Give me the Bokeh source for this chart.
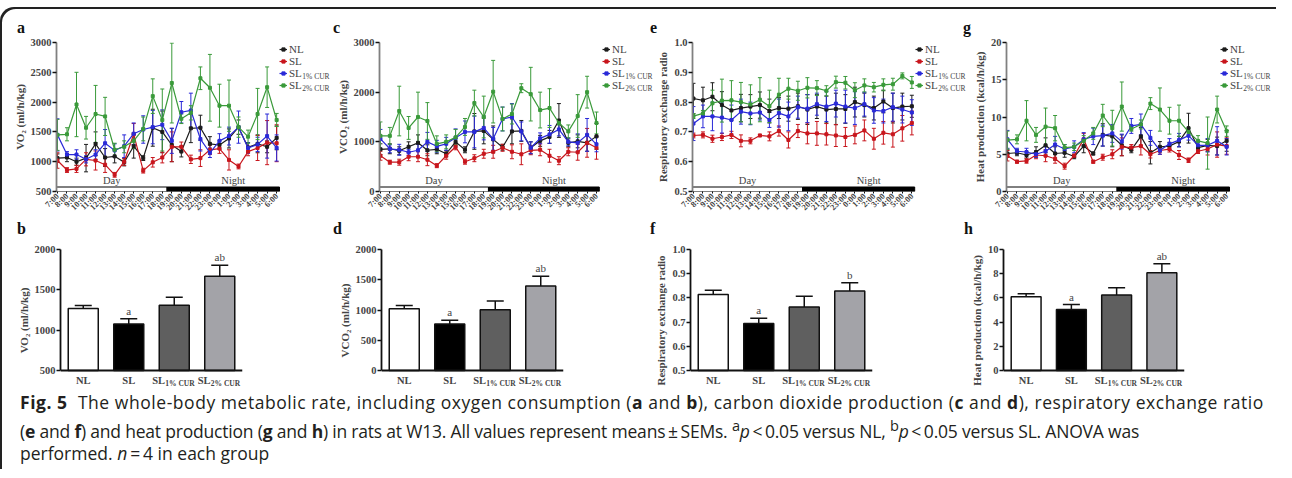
import math
from bokeh.plotting import figure
from bokeh.models import (Range1d, FixedTicker, Legend, LegendItem, Label, Whisker, Span,
                          ColumnDataSource, Div, TeeHead, PrintfTickFormatter)
from bokeh.layouts import row, column
from bokeh.embed import file_html
from bokeh.resources import INLINE
from bokeh.core.properties import value

# ---------------- data ----------------
hours = ["7:00", "8:00", "9:00", "10:00", "11:00", "12:00", "13:00", "14:00", "15:00", "16:00",
         "17:00", "18:00", "19:00", "20:00", "21:00", "22:00", "23:00", "0:00", "1:00", "2:00",
         "3:00", "4:00", "5:00", "6:00"]
periods = ["Day", "Night"]
night_first_hour = "19:00"

groups = ["NL", "SL", "SL1% CUR", "SL2% CUR"]
group_base = ["NL", "SL", "SL", "SL"]
group_sub = ["", "", "1% CUR", "2% CUR"]

# VO2 (ml/h/kg)
vo2_nl = [1060, 1070, 1000, 1060, 1300, 1070, 1090, 990, 1260, 1060, 1570, 1500,
          1280, 1170, 1560, 1570, 1300, 1280, 1390, 1580, 1240, 1300, 1250, 1400]
vo2_nl_sem = [70, 70, 60, 230, 200, 150, 110, 60, 200, 40, 310, 350,
              280, 90, 240, 210, 120, 70, 160, 120, 80, 150, 100, 200]
vo2_sl = [1020, 860, 880, 1040, 1020, 950, 780, 1000, 1460, 850, 990, 1070,
          1250, 1250, 1040, 1060, 1200, 1220, 1030, 920, 1170, 1230, 1320, 1310]
vo2_sl_sem = [130, 40, 60, 110, 160, 130, 40, 60, 180, 40, 80, 90,
              250, 80, 70, 140, 80, 80, 170, 40, 70, 210, 370, 310]
vo2_sl1 = [1450, 1120, 1120, 1040, 1120, 1310, 1190, 1260, 1470, 1540, 1580, 1620,
           1350, 1830, 1860, 1380, 1150, 1350, 1430, 1580, 1230, 1290, 1430, 1230]
vo2_sl1_sem = [270, 50, 80, 60, 80, 230, 110, 190, 180, 230, 280, 250,
               210, 180, 290, 200, 80, 120, 150, 270, 90, 120, 370, 220]
vo2_sl2 = [1450, 1460, 1960, 1570, 1800, 1760, 1200, 1250, 1350, 1550, 2100, 1700,
           2320, 1720, 1820, 2400, 2240, 1940, 1940, 1580, 1420, 1800, 2250, 1700]
vo2_sl2_sem = [260, 110, 540, 190, 480, 320, 110, 100, 130, 200, 290, 520,
               670, 80, 120, 190, 560, 360, 430, 170, 110, 430, 340, 110]

# VCO2 (ml/h/kg)
vco2_nl = [850, 860, 820, 900, 980, 830, 850, 760, 1000, 840, 1210, 1220,
           1050, 890, 1210, 1220, 880, 1020, 1100, 1430, 980, 1010, 980, 1110]
vco2_nl_sem = [110, 100, 80, 100, 160, 110, 90, 60, 60, 60, 360, 260,
               270, 60, 250, 210, 120, 110, 130, 340, 80, 130, 170, 260]
vco2_sl = [720, 590, 590, 700, 700, 640, 520, 720, 900, 600, 670, 760,
           800, 880, 800, 750, 830, 840, 720, 620, 800, 790, 980, 880]
vco2_sl_sem = [90, 40, 60, 80, 100, 120, 40, 70, 60, 50, 70, 90,
               130, 70, 140, 210, 90, 120, 130, 80, 80, 160, 290, 230]
vco2_sl1 = [1060, 860, 840, 790, 830, 1000, 910, 960, 1080, 1200, 1200, 1280,
            1060, 1460, 1500, 1210, 880, 1070, 1150, 1250, 1000, 980, 1140, 950]
vco2_sl1_sem = [190, 80, 110, 60, 120, 190, 120, 130, 180, 220, 320, 240,
                230, 240, 270, 190, 120, 110, 180, 130, 80, 180, 330, 150]
vco2_sl2 = [1120, 1120, 1620, 1280, 1500, 1420, 960, 1000, 1090, 1300, 1780, 1500,
            2010, 1460, 1560, 2080, 1960, 1640, 1680, 1380, 1210, 1520, 2000, 1380]
vco2_sl2_sem = [280, 170, 500, 230, 500, 370, 160, 140, 160, 170, 260, 420,
                630, 240, 200, 90, 540, 360, 390, 40, 130, 430, 320, 220]

# Respiratory exchange ratio
rer_nl = [0.812, 0.806, 0.818, 0.790, 0.772, 0.780, 0.785, 0.790, 0.770, 0.780, 0.778, 0.786,
          0.775, 0.785, 0.775, 0.777, 0.777, 0.800, 0.790, 0.780, 0.802, 0.780, 0.785, 0.786]
rer_nl_sem = [0.051, 0.044, 0.047, 0.045, 0.033, 0.046, 0.040, 0.044, 0.040, 0.035, 0.042, 0.044,
              0.050, 0.040, 0.045, 0.053, 0.048, 0.050, 0.040, 0.040, 0.038, 0.050, 0.045, 0.037]
rer_sl = [0.688, 0.690, 0.677, 0.683, 0.690, 0.670, 0.670, 0.688, 0.685, 0.703, 0.673, 0.703,
          0.695, 0.695, 0.692, 0.688, 0.683, 0.690, 0.705, 0.677, 0.697, 0.692, 0.712, 0.730]
rer_sl_sem = [0.008, 0.010, 0.012, 0.012, 0.012, 0.020, 0.010, 0.004, 0.015, 0.017, 0.027, 0.022,
              0.035, 0.040, 0.036, 0.037, 0.032, 0.030, 0.035, 0.035, 0.038, 0.043, 0.043, 0.040]
rer_sl1 = [0.728, 0.752, 0.752, 0.748, 0.740, 0.768, 0.762, 0.765, 0.740, 0.763, 0.752, 0.783,
           0.778, 0.793, 0.785, 0.795, 0.785, 0.780, 0.793, 0.772, 0.770, 0.783, 0.775, 0.765]
rer_sl1_sem = [0.057, 0.038, 0.048, 0.052, 0.050, 0.042, 0.038, 0.025, 0.025, 0.047, 0.048, 0.037,
               0.047, 0.037, 0.050, 0.045, 0.055, 0.055, 0.040, 0.043, 0.040, 0.047, 0.045, 0.043]
rer_sl2 = [0.753, 0.762, 0.796, 0.805, 0.806, 0.800, 0.792, 0.808, 0.786, 0.825, 0.845, 0.838,
           0.848, 0.847, 0.838, 0.867, 0.865, 0.840, 0.856, 0.850, 0.858, 0.860, 0.888, 0.866]
rer_sl2_sem = [0.008, 0.010, 0.044, 0.072, 0.066, 0.066, 0.066, 0.074, 0.054, 0.055, 0.035, 0.032,
               0.034, 0.025, 0.017, 0.020, 0.021, 0.025, 0.022, 0.016, 0.020, 0.020, 0.010, 0.020]

# Heat production (kcal/h/kg)
heat_nl = [5.1, 5.2, 4.9, 5.3, 6.2, 5.1, 5.2, 4.7, 6.1, 5.1, 7.6, 7.4,
           6.2, 5.6, 7.4, 5.2, 6.0, 6.1, 6.7, 8.5, 5.9, 6.2, 6.1, 6.8]
heat_nl_sem = [0.5, 0.4, 0.4, 0.7, 1.0, 0.9, 0.6, 0.3, 0.9, 0.2, 1.5, 1.4,
               1.4, 0.4, 1.2, 1.5, 0.7, 0.5, 0.7, 2.0, 0.3, 0.8, 1.2, 1.4]
heat_sl = [4.8, 4.0, 4.1, 4.9, 4.8, 4.4, 3.4, 4.8, 7.0, 4.0, 4.6, 5.0,
           6.0, 5.9, 6.1, 5.0, 5.5, 5.7, 4.9, 4.2, 5.4, 5.7, 6.3, 6.1]
heat_sl_sem = [0.7, 0.2, 0.3, 0.5, 0.8, 0.6, 0.4, 0.2, 0.8, 0.2, 0.4, 0.6,
               1.2, 0.4, 1.2, 0.5, 0.5, 0.4, 0.6, 0.3, 0.3, 0.8, 1.7, 1.1]
heat_sl1 = [7.0, 5.4, 5.3, 5.0, 5.4, 6.3, 5.7, 6.0, 7.0, 7.4, 7.5, 7.8,
            6.7, 8.8, 9.0, 7.2, 5.5, 6.4, 6.9, 7.5, 6.2, 6.2, 6.8, 6.0]
heat_sl1_sem = [1.2, 0.4, 0.5, 0.4, 0.6, 1.1, 0.6, 0.8, 0.9, 1.1, 1.4, 1.2,
                1.0, 1.0, 1.4, 1.0, 0.5, 0.7, 0.9, 0.6, 0.4, 0.9, 1.9, 1.1]
heat_sl2 = [6.9, 7.0, 9.5, 7.6, 8.7, 8.5, 5.9, 6.0, 6.8, 7.8, 10.2, 8.5,
            11.4, 8.4, 9.0, 11.8, 11.0, 9.5, 9.5, 8.0, 6.8, 6.5, 11.0, 8.1]
heat_sl2_sem = [1.2, 0.6, 2.7, 1.0, 2.5, 1.7, 0.4, 0.5, 0.7, 0.8, 1.5, 2.4,
                3.3, 0.3, 0.6, 0.8, 2.9, 1.8, 2.1, 0.5, 0.7, 3.5, 1.8, 0.7]

# Whole-period means (bar charts)
vo2_bar = [1270, 1076, 1308, 1668]
vo2_bar_sem = [35, 66, 100, 137]
vo2_sig = ["", "a", "", "ab"]
vco2_bar = [1020, 770, 1005, 1395]
vco2_bar_sem = [55, 62, 142, 163]
vco2_sig = ["", "a", "", "ab"]
rer_bar = [0.814, 0.694, 0.762, 0.828]
rer_bar_sem = [0.018, 0.022, 0.045, 0.035]
rer_sig = ["", "a", "", "b"]
heat_bar = [6.09, 5.04, 6.25, 8.07]
heat_bar_sem = [0.25, 0.41, 0.58, 0.75]
heat_sig = ["", "a", "", "ab"]

# ---------------- style ----------------
FONT = "Liberation Serif"
line_colors = ["#1c1c1c", "#c8161d", "#2a2ad8", "#3a9a3a"]
bar_colors = ["#ffffff", "#000000", "#5f5f5f", "#a3a3a8"]
TOP_H, BOT_H = 184, 149
TOP_FH, BOT_FH = 149, 121
DATA_W = 223
X0, X1 = -0.1, 23.3
LEG_PITCH = 12


def base_fig(width, height, left, right, top, bottom, xr, yr, **kw):
    p = figure(width=width, height=height, x_range=xr, y_range=yr,
               output_backend="svg", toolbar_location=None,
               min_border_left=left, min_border_right=right,
               min_border_top=top, min_border_bottom=bottom, **kw)
    p.grid.visible = False
    p.outline_line_color = None
    p.border_fill_color = None
    p.background_fill_color = None
    return p


def style_y(ax, label, ticks, fmt, line_color):
    ax.ticker = FixedTicker(ticks=ticks)
    ax.formatter = PrintfTickFormatter(format=fmt)
    ax.bounds = (ticks[0], ticks[-1])
    ax.axis_label = label
    ax.axis_label_text_font = FONT
    ax.axis_label_text_font_style = "bold"
    ax.axis_label_text_font_size = "11px"
    ax.axis_label_standoff = 2
    ax.major_label_text_font = FONT
    ax.major_label_text_font_style = "bold"
    ax.major_label_text_font_size = "10.5px"
    ax.major_label_standoff = 1
    ax.axis_line_color = line_color
    ax.axis_line_width = 1.8
    ax.major_tick_line_color = "#111111"
    ax.major_tick_line_width = 1.5
    ax.major_tick_out = 4
    ax.major_tick_in = 0
    ax.minor_tick_line_color = None


def line_panel(ylabel, means, sems, y0, y1, ticks, fmt, width, left, leg_dx):
    px_per = DATA_W / (X1 - X0)
    xr = Range1d(X0, X0 + (width - left) / px_per)
    p = base_fig(width, TOP_H, left, 0, 7, 28, xr, Range1d(y0, y1))
    x = list(range(len(hours)))
    style_y(p.yaxis[0], ylabel, ticks, fmt, "#808080")
    xa = p.xaxis[0]
    xa.ticker = FixedTicker(ticks=x)
    xa.bounds = (X0, X1)
    xa.major_label_overrides = {i: h for i, h in enumerate(hours)}
    xa.major_label_orientation = math.pi / 4
    xa.major_label_text_font = FONT
    xa.major_label_text_font_style = "bold"
    xa.major_label_text_font_size = "8.5px"
    xa.major_label_standoff = 1
    xa.axis_line_color = None
    xa.major_tick_out = 2
    xa.major_tick_in = 0
    xa.major_tick_line_color = "#111111"
    xa.minor_tick_line_color = None

    # day / night bar
    split = hours.index(night_first_hour) - 0.5
    barh = (y1 - y0) * 4.5 / TOP_FH
    p.quad(left=[X0, split], right=[split, X1], bottom=y0, top=y0 + barh,
           fill_color=["white", "black"], line_color="black", line_width=1)
    p.add_layout(Label(x=(X0 + split) / 2, y=y0 + barh, y_offset=1, text=periods[0],
                       text_font=FONT, text_font_size="10.5px", text_align="center",
                       text_baseline="bottom"))
    p.add_layout(Label(x=(split + X1) / 2, y=y0 + barh, x_offset=10, y_offset=1, text=periods[1],
                       text_font=FONT, text_font_size="10.5px", text_align="center",
                       text_baseline="bottom"))

    items = []
    for k in range(4):
        m, s, c = means[k], sems[k], line_colors[k]
        src = ColumnDataSource(dict(x=x, y=m, lo=[a - b for a, b in zip(m, s)],
                                    hi=[a + b for a, b in zip(m, s)]))
        p.add_layout(Whisker(source=src, base="x", lower="lo", upper="hi", dimension="height",
                             line_color=c, line_width=1,
                             upper_head=TeeHead(size=4, line_color=c, line_width=1),
                             lower_head=TeeHead(size=4, line_color=c, line_width=1)))
        lr = p.line("x", "y", source=src, line_color=c, line_width=1.2)
        sr = p.scatter("x", "y", source=src, marker="square", size=3,
                       fill_color=c, line_color=c)
        items.append(LegendItem(label=value(group_base[k]), renderers=[lr, sr]))

    leg = Legend(items=items, location=(DATA_W + leg_dx, TOP_FH - 4 * LEG_PITCH - 1),
                 orientation="vertical", padding=0, margin=0, spacing=-1, glyph_width=8,
                 glyph_height=12, label_height=12, label_standoff=2, label_text_font=FONT,
                 label_text_font_size="11px", border_line_color=None,
                 background_fill_alpha=0)
    p.add_layout(leg)
    for k in range(4):
        if group_sub[k]:
            p.add_layout(Label(x=DATA_W + leg_dx + 8 + 2 + 12.8,
                               y=TOP_FH - 6.5 - LEG_PITCH * k - 3,
                               x_units="screen", y_units="screen", text=group_sub[k],
                               text_font=FONT, text_font_size="7.5px", text_baseline="middle"))
    return p


def bar_panel(ylabel, means, sems, sig, y0, y1, ticks, fmt, width, left, right):
    pad = (y1 - y0) * 21 / BOT_FH
    p = base_fig(width, BOT_H, left, right, 7, 0, Range1d(-0.5, 3.5), Range1d(y0 - pad, y1),
                 x_axis_location=None)
    x = list(range(len(groups)))
    style_y(p.yaxis[0], ylabel, ticks, fmt, "#111111")
    p.add_layout(Span(location=y0, dimension="width", line_color="#111111", line_width=1.8))
    src = ColumnDataSource(dict(x=x, top=means, color=bar_colors,
                                hi=[a + b for a, b in zip(means, sems)]))
    p.vbar(x="x", top="top", bottom=y0, width=0.66, fill_color="color",
           line_color="#111111", line_width=1.5, source=src)
    p.add_layout(Whisker(source=src, base="x", lower="top", upper="hi", dimension="height",
                         line_color="#111111", line_width=1.5, lower_head=None,
                         upper_head=TeeHead(size=17, line_color="#111111", line_width=1.5)))
    for i in x:
        if sig[i]:
            p.add_layout(Label(x=i, y=means[i] + sems[i], y_offset=2, text=sig[i],
                               text_font=FONT, text_font_size="11px",
                               text_align="center", text_baseline="bottom"))
        if group_sub[i]:
            p.add_layout(Label(x=i, y=y0, y_offset=-10, x_offset=-22,
                               text=group_base[i], text_font=FONT, text_font_style="bold",
                               text_font_size="10.5px", text_align="left",
                               text_baseline="middle"))
            p.add_layout(Label(x=i, y=y0, y_offset=-13, x_offset=-9,
                               text=group_sub[i], text_font=FONT, text_font_style="bold",
                               text_font_size="7.5px", text_align="left",
                               text_baseline="middle"))
        else:
            p.add_layout(Label(x=i, y=y0, y_offset=-10,
                               text=group_base[i], text_font=FONT, text_font_style="bold",
                               text_font_size="10.5px", text_align="center",
                               text_baseline="middle"))
    return p


pa = line_panel("VO\u2082 (ml/h/kg)", [vo2_nl, vo2_sl, vo2_sl1, vo2_sl2],
                [vo2_nl_sem, vo2_sl_sem, vo2_sl1_sem, vo2_sl2_sem], 500, 3000,
                [500, 1000, 1500, 2000, 2500, 3000], "%d", 333, 56, 0)
pc = line_panel("VCO\u2082 (ml/h/kg)", [vco2_nl, vco2_sl, vco2_sl1, vco2_sl2],
                [vco2_nl_sem, vco2_sl_sem, vco2_sl1_sem, vco2_sl2_sem], 0, 3000,
                [0, 1000, 2000, 3000], "%d", 321, 42, 0)
pe = line_panel("Respiratory exchange radio", [rer_nl, rer_sl, rer_sl1, rer_sl2],
                [rer_nl_sem, rer_sl_sem, rer_sl1_sem, rer_sl2_sem], 0.5, 1.0,
                [0.5, 0.6, 0.7, 0.8, 0.9, 1.0], "%.1f", 316, 37, 0)
pg = line_panel("Heat production (kcal/h/kg)", [heat_nl, heat_sl, heat_sl1, heat_sl2],
                [heat_nl_sem, heat_sl_sem, heat_sl1_sem, heat_sl2_sem], 0, 20,
                [0, 5, 10, 15, 20], "%d", 306, 36, -9)

pb = bar_panel("VO\u2082 (ml/h/kg)", vo2_bar, vo2_bar_sem, vo2_sig, 500, 2000,
               [500, 1000, 1500, 2000], "%d", 332, 60, 90)
pd_ = bar_panel("VCO\u2082 (ml/h/kg)", vco2_bar, vco2_bar_sem, vco2_sig, 0, 2000,
                [0, 500, 1000, 1500, 2000], "%d", 317, 49, 86)
pf = bar_panel("Respiratory exchange radio", rer_bar, rer_bar_sem, rer_sig, 0.5, 1.0,
               [0.5, 0.6, 0.7, 0.8, 0.9, 1.0], "%.1f", 315, 41, 92)
ph = bar_panel("Heat production (kcal/h/kg)", heat_bar, heat_bar_sem, heat_sig, 0, 10,
               [0, 2, 4, 6, 8, 10], "%d", 312, 39, 92)


def letters_div(letters, xs, top, height):
    spans = "".join(
        '<span style="position:absolute;left:%dpx;top:%dpx;">%s</span>' % (x, top, t)
        for t, x in zip(letters, xs))
    html = ('<div style="position:relative;width:1276px;height:%dpx;font-family:\'Liberation Serif\';'
            'font-weight:bold;font-size:16px;line-height:16px;color:#111;">%s</div>' % (height, spans))
    return Div(text=html, width=1276, height=height, margin=0)


top_letters = letters_div(["a", "c", "e", "g"], [17, 333, 650, 963], 13, 28)
bottom_letters = letters_div(["b", "d", "f", "h"], [17, 333, 650, 964], 2, 23)

caption_html = (
    '<div style="font-family:\'Open Sans\';font-size:17.5px;line-height:22.5px;'
    'color:#231f20;white-space:nowrap;padding-left:20px;">'
    '<div style="letter-spacing:0.55px;"><b>Fig. 5</b>&nbsp; The whole-body metabolic rate, including oxygen consumption '
    '(<b>a</b> and <b>b</b>), carbon dioxide production (<b>c</b> and <b>d</b>), '
    'respiratory exchange ratio</div>'
    '<div style="letter-spacing:-0.2px;">(<b>e</b> and <b>f</b>) and heat production (<b>g</b> and <b>h</b>) in rats at W13. '
    'All values represent means&#8201;&#177;&#8201;SEMs. <sup>a</sup><i>p</i>&#8201;&lt;&#8201;0.05 '
    'versus NL, <sup>b</sup><i>p</i>&#8201;&lt;&#8201;0.05 versus SL. ANOVA was</div>'
    '<div>performed. <i>n</i>&#8201;=&#8201;4 in each group</div></div>'
)
caption = Div(text=caption_html, width=1276, height=78, margin=0)

layout = column(top_letters, row(pa, pc, pe, pg), bottom_letters, row(pb, pd_, pf, ph), caption,
                styles={"box-shadow": "inset 2px 2px 0 0 #222222",
                        "border-top-left-radius": "14px",
                        "margin-top": "7px"})

open("out.html", "w").write(file_html(layout, INLINE))
